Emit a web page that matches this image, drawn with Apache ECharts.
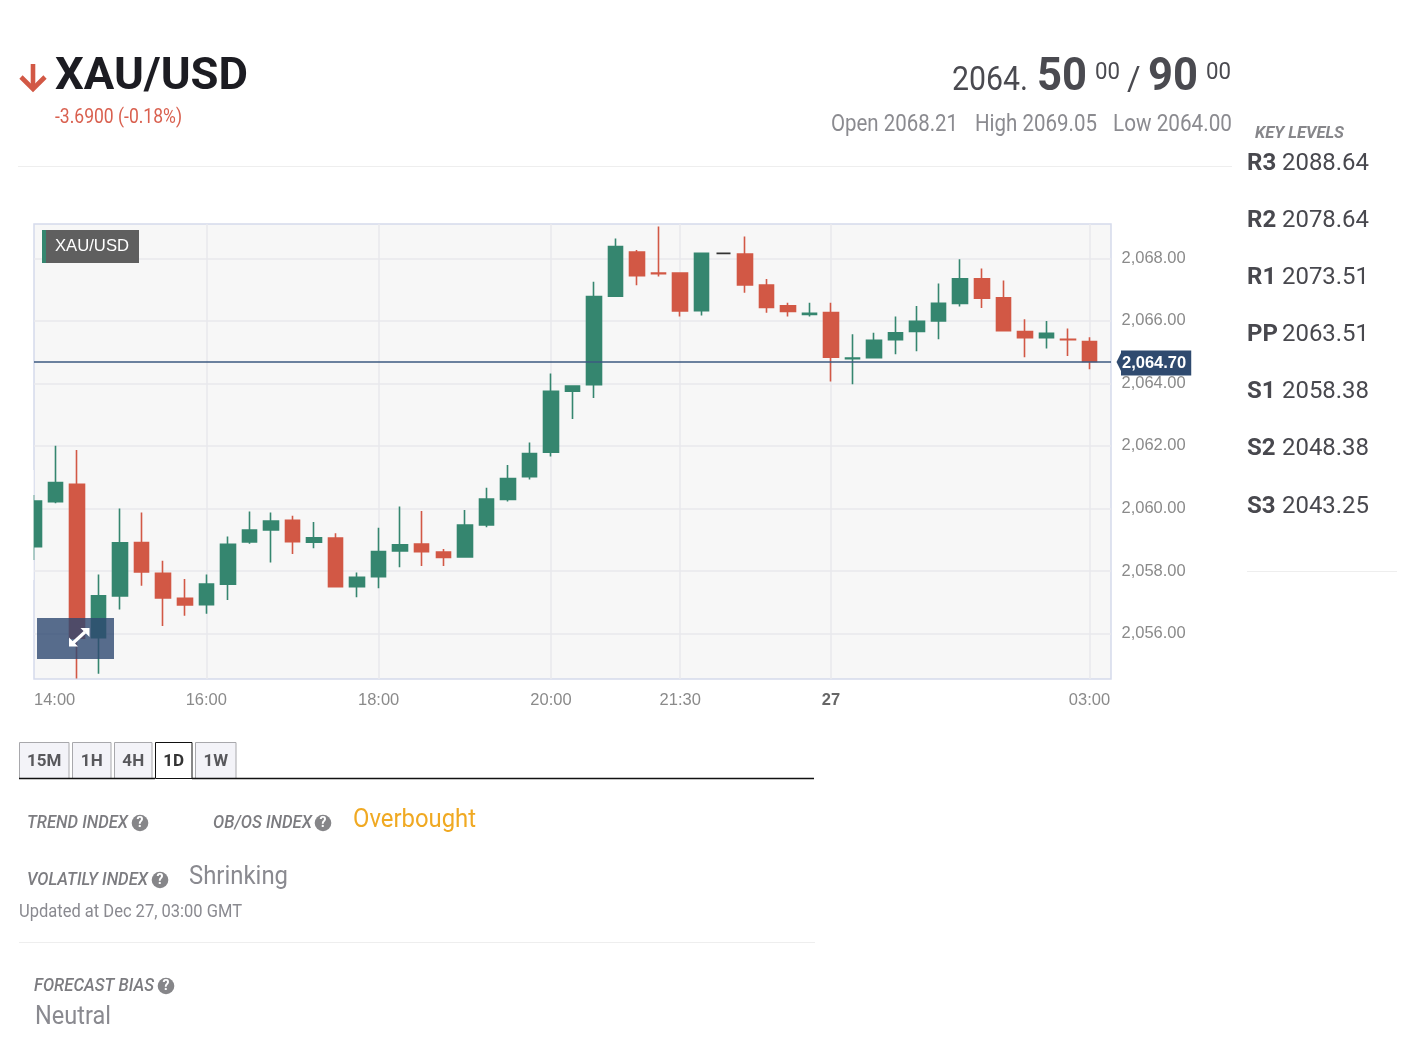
<!DOCTYPE html>
<html><head><meta charset="utf-8">
<style>html,body{margin:0;padding:0;background:#fff}#c{width:1414px;height:1059px}</style>
<script src="https://cdn.jsdelivr.net/npm/echarts@6/dist/echarts.min.js"></script>
</head><body><div id="c"></div>
<script>
const times = ['14:00','14:15','14:30','14:45','15:00','15:15','15:30','15:45','16:00','16:15','16:30','16:45','17:00','17:15','17:30','17:45','18:00','18:15','18:30','18:45','19:00','19:15','19:30','19:45','20:00','20:15','20:30','20:45','21:00','21:15','21:30','21:45','22:00','23:00','23:15','23:30','23:45','27','00:15','00:30','00:45','01:00','01:15','01:30','01:45','02:00','02:15','02:30','02:45','03:00','03:15'];
const opens  = [2058.78,2060.22,2060.77,2055.87,2057.20,2058.91,2057.93,2057.13,2056.92,2057.58,2058.93,2059.31,2059.62,2058.92,2059.05,2057.50,2057.82,2058.64,2058.86,2058.61,2058.45,2059.47,2060.29,2061.02,2061.80,2063.75,2063.96,2066.79,2068.20,2067.53,2067.53,2066.33,2068.16,2068.14,2067.15,2066.48,2066.21,2066.27,2064.79,2064.82,2065.40,2065.66,2066.00,2066.56,2067.35,2066.74,2065.66,2065.46,2065.41,2065.34];
const closes = [2060.24,2060.83,2055.85,2057.21,2058.90,2057.97,2057.14,2056.91,2057.58,2058.85,2059.31,2059.60,2058.94,2059.06,2057.50,2057.80,2058.62,2058.84,2058.62,2058.43,2059.47,2060.30,2060.96,2061.76,2063.75,2063.92,2066.78,2068.38,2067.45,2067.51,2066.32,2068.16,2068.16,2067.15,2066.43,2066.30,2066.24,2064.84,2064.81,2065.38,2065.62,2065.99,2066.56,2067.35,2066.73,2065.69,2065.46,2065.60,2065.40,2064.70];
const lows   = [2058.35,2060.17,2054.56,2054.71,2056.77,2057.53,2056.24,2056.57,2056.63,2057.07,2058.87,2058.27,2058.54,2058.73,2057.50,2057.16,2057.45,2058.12,2058.16,2058.16,2058.43,2059.40,2060.22,2060.93,2061.66,2062.86,2063.53,2066.79,2067.14,2067.42,2066.14,2066.17,2068.16,2066.90,2066.26,2066.14,2066.14,2064.06,2063.97,2064.82,2064.93,2065.03,2065.41,2066.46,2066.41,2065.69,2064.84,2065.12,2064.88,2064.45];
const highs  = [2060.43,2062.01,2061.87,2057.89,2060.00,2059.87,2058.33,2057.74,2057.89,2059.10,2059.90,2059.87,2059.77,2059.57,2059.21,2057.95,2059.38,2060.06,2059.92,2058.70,2059.95,2060.66,2061.39,2062.11,2064.32,2063.94,2067.25,2068.64,2068.27,2069.02,2067.55,2068.16,2068.16,2068.70,2067.34,2066.58,2066.58,2066.58,2065.57,2065.62,2066.14,2066.48,2067.20,2067.97,2067.68,2067.29,2066.05,2066.00,2065.76,2065.48];
const priceTicks = [2056,2058,2060,2062,2064,2066,2068];
const labelSlots = ['14:00','16:00','18:00','20:00','21:30','27','03:00'];
const lastPrice = 2064.70;
const levelNames = ['R3','R2','R1','PP','S1','S2','S3'];
const levelValues = ['2088.64','2078.64','2073.51','2063.51','2058.38','2048.38','2043.25'];
const tabs = ['15M','1H','4H','1D','1W'];

const GREEN='#35866f', RED='#d25845', FONT='Roboto', CHARTFONT='"Liberation Sans"';
const fmt = v => v.toLocaleString('en-US',{minimumFractionDigits:2,maximumFractionDigits:2});
const el = [];
const mctx = document.createElement('canvas').getContext('2d');
function T(x,y,text,size,fill,o={}){
  const family=o.family||FONT, weight=o.weight||400, st=o.italic?'italic':'normal';
  let sx=1;
  if(o.w){ mctx.font=`${st} ${weight} ${size}px ${family}`; sx=o.w/mctx.measureText(text).width; }
  el.push({type:'text',z:o.z||50,silent:true,x,y:y+2.3,scaleX:sx,style:{x:0,y:0,text,fill,align:o.align||'left',verticalAlign:'middle',
    fontFamily:family,fontSize:size,fontWeight:weight,fontStyle:st}});
}
function R(x,y,w,h,fill,o={}){
  el.push({type:'rect',z:o.z||40,silent:true,shape:{x,y,width:w,height:h},style:{fill,stroke:o.stroke||null,lineWidth:o.lw||0}});
}
function L(points,stroke,lw,o={}){
  el.push({type:'polyline',z:o.z||40,silent:true,shape:{points},style:{stroke,lineWidth:lw,fill:null,lineCap:o.cap||'butt',lineJoin:'miter'}});
}
function Help(cx,cy){
  el.push({type:'circle',z:45,silent:true,shape:{cx,cy,r:8.3},style:{fill:'#868689'}});
  T(cx,cy-1.6,'?',14,'#fff',{align:'center',weight:700});
}
// header
L([[33,64],[33,88]],RED,4.6); L([[21,77],[33,89],[45,77]],RED,4.6);
T(55,75.5,'XAU/USD',45,'#1c1c22',{weight:700,w:193});
T(55,116,'-3.6900 (-0.18%)',19.5,'#d9604f',{w:127});
R(18,166,1214,1,'#eeeeee');
const PX='#4a4a50';
T(1028,79.5,'2064.',33,PX,{align:'right',w:76});
T(1037,75.5,'50',47,PX,{weight:700,w:50});
T(1095,70.5,'00',24,PX,{w:25});
T(1127,79.5,'/',33,PX);
T(1148,75.5,'90',47,PX,{weight:700,w:50});
T(1206,70.5,'00',24,PX,{w:25});
const SUB='#8b8b90';
T(831,123,'Open 2068.21',23,SUB,{w:127});
T(975,123,'High 2069.05',23,SUB,{w:122});
T(1113,123,'Low 2064.00',23,SUB,{w:119});
// key levels
T(1255,132,'KEY LEVELS',16.5,'#86868a',{weight:700,italic:true,w:89});
const levelY=[162,219,276,333,390,447,505];
levelNames.forEach((n,i)=>{
  T(1247,levelY[i],n,24,'#48484e',{weight:700});
  T(1282,levelY[i],levelValues[i],24,'#48484e',{w:87});
});
R(1247,571,150,1,'#eeeeee');
// tabs
const tabX=[[19,49.5],[72,38.5],[114,37.5],[155,36.5],[195,40.5]];
tabs.forEach((t,i)=>{
  const [x,w]=tabX[i], on=t==='1D';
  R(x+.5,742.5,w,36,on?'#ffffff':'#f3f3f8',{stroke:on?'#111':'#a8a8ac',lw:1});
  T(x+w/2+.5,759,t,17,on?'#333':'#58585c',{align:'center',weight:700});
});
L([[19,778.5],[155,778.5]],'#111',1.4,{z:42});
L([[192,778.5],[814,778.5]],'#111',1.4,{z:42});
// indices
const IDX='#7c7c80';
T(27,821,'TREND INDEX',17.5,IDX,{italic:true,weight:500,w:101}); Help(140,823);
T(213,821,'OB/OS INDEX',17.5,IDX,{italic:true,weight:500,w:99}); Help(323,823);
T(353,818,'Overbought',25,'#f0a922',{w:123});
T(27,878,'VOLATILY INDEX',17.5,IDX,{italic:true,weight:500,w:121}); Help(160,880);
T(189,875,'Shrinking',25,'#8a8a90',{w:99});
T(19,910,'Updated at Dec 27, 03:00 GMT',18,'#8a8a90',{w:223});
R(19,942,796,1,'#eeeeee');
T(34,984,'FORECAST BIAS',17.5,IDX,{italic:true,weight:500,w:120}); Help(166,986);
T(35,1015,'Neutral',25,'#8a8a90',{w:76});
// chart overlays
R(20,470,13.6,110,'#ffffff',{z:30});
R(42,230,97,33,'#5f5f5f',{z:60}); R(42,230,4,33,GREEN,{z:61});
T(55,244.5,'XAU/USD',17,'#ffffff',{family:CHARTFONT,z:62,w:74});
R(37,618,77,41,'rgba(46,72,112,0.8)',{z:60});
L([[73,643],[85,632]],'#fff',3.2,{z:62});
el.push({type:'polygon',z:62,silent:true,shape:{points:[[69,646.5],[69,637.5],[78,646.5]]},style:{fill:'#fff'}});
el.push({type:'polygon',z:62,silent:true,shape:{points:[[89.5,628],[89.5,637],[80.5,628]]},style:{fill:'#fff'}});
el.push({type:'polygon',z:62,silent:true,shape:{points:[[1116.5,362],[1122,351],[1122,373]]},style:{fill:'#2f4a6f'}});

const candles = opens.map((o,i)=>[o,closes[i],lows[i],highs[i]]);
const tickIdx = labelSlots.map(s=>times.indexOf(s));
const chart = echarts.init(document.getElementById('c'));
chart.setOption({
  animation:false,
  graphic:{elements:el},
  grid:{left:34,top:224,width:1077,height:455,show:true,backgroundColor:'#f7f7f7',borderColor:'#d5daeb',borderWidth:1.5},
  xAxis:{type:'category',data:times,boundaryGap:false,
    axisLine:{show:false},axisTick:{show:false},
    axisLabel:{interval:(i)=>tickIdx.includes(i),hideOverlap:false,alignMinLabel:'left',margin:13,fontFamily:CHARTFONT,fontSize:16.5,color:'#8a8a8a',
      formatter:v=>v==='27'?'{b|27}':v,rich:{b:{fontFamily:CHARTFONT,fontSize:16.5,fontWeight:700,color:'#666'}}},
    splitLine:{show:true,interval:(i)=>tickIdx.includes(i)&&i>0,lineStyle:{color:'#e8e8ec',width:1.5}}},
  yAxis:{type:'value',position:'right',min:2054.545,max:2069.10,scale:true,
    axisLine:{show:false},
    axisTick:{show:false,customValues:priceTicks},
    axisLabel:{customValues:priceTicks,margin:10.5,padding:[4,0,0,0],fontFamily:CHARTFONT,fontSize:16.5,color:'#8a8a8a',formatter:fmt},
    splitLine:{show:true,lineStyle:{color:'#e9e9ec',width:1.5}}},
  series:[{type:'candlestick',data:candles,barWidth:15,clip:true,
    itemStyle:{color:GREEN,color0:RED,borderColor:GREEN,borderColor0:RED,borderColorDoji:'#333',borderWidth:1.6},
    markLine:{silent:true,symbol:'none',animation:false,
      lineStyle:{color:'#3d5a80',width:1.5,type:'solid'},
      label:{show:true,position:'end',distance:10,offset:[0,1.5],formatter:fmt(lastPrice),fontFamily:CHARTFONT,fontSize:16.5,fontWeight:700,color:'#fff',
        backgroundColor:'#2f4a6f',padding:[4,5,4,1]},
      data:[{yAxis:lastPrice}]}}]
});
</script></body></html>
